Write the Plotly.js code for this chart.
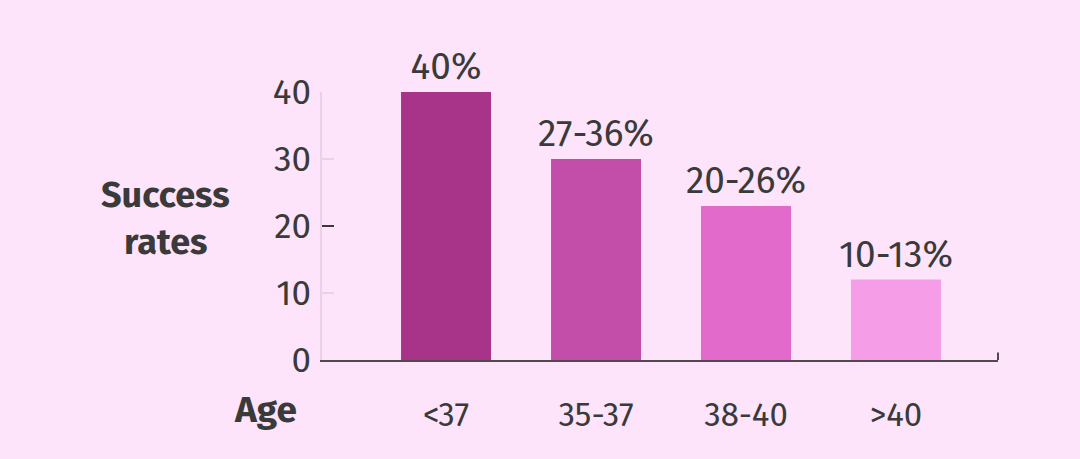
<!DOCTYPE html>
<html><head><meta charset="utf-8">
<script src="https://cdn.plot.ly/plotly-3.0.1.min.js"></script>
<style>html,body{margin:0;padding:0;background:#fde4fa;}</style>
</head><body>
<div id="chart" style="width:1080px;height:459px;"></div>
<script>
const categories = ["<37", "35-37", "38-40", ">40"];
const values = [40, 30, 23, 12];
const barLabels = ["40%", "27-36%", "20-26%", "10-13%"];
const barColors = ["#a73489", "#c24ea9", "#e16acb", "#f59de7"];
const yTicks = [0, 10, 20, 30, 40];

const font = "Fira Sans, Open Sans, Noto Sans, sans-serif";
const trace = {
  type: "bar", x: categories, y: values,
  text: barLabels, textposition: "outside", cliponaxis: false, constraintext: "none",
  textfont: {family: font, size: 37, color: "#3a3a3a"},
  marker: {color: barColors, line: {width: 0}},
  width: 0.6, hoverinfo: "none"
};
const layout = {
  width: 1080, height: 459,
  paper_bgcolor: "#fde4fa", plot_bgcolor: "#fde4fa",
  margin: {l: 322, r: 82, t: 92, b: 99},
  showlegend: false,
  font: {family: font, color: "#3a3a3a"},
  xaxis: {
    range: [-0.827, 3.68], showgrid: false, zeroline: false,
    showline: true, linecolor: "#55474f", linewidth: 2,
    ticks: "", tickfont: {size: 33, color: "#3a3a3a"}, ticklabelstandoff: 24,
    fixedrange: true
  },
  yaxis: {
    range: [0, 40], tickvals: yTicks, showgrid: false, zeroline: false,
    showline: true, linecolor: "#ecd0e6", linewidth: 2,
    ticks: "inside", ticklen: 12, tickwidth: 2, tickcolor: "#ecd0e6",
    tickfont: {size: 35, color: "#3a3a3a"}, ticklabelstandoff: 2,
    fixedrange: true
  },
  yaxis2: {
    range: [0, 40], overlaying: "y", side: "left", anchor: "x",
    tickvals: [20, 40], showticklabels: false, showgrid: false, zeroline: false,
    showline: false, ticks: "inside", ticklen: 12, tickwidth: 2, tickcolor: "#3a3a3a"
  },
  shapes: [{type: "line", xref: "paper", yref: "paper", x0: 1, x1: 1, y0: 0, y1: 0.028,
            line: {color: "#55474f", width: 2}}],
  annotations: [
    {text: "<b>Success</b>", xref: "paper", yref: "paper", x: -0.232, y: 0.616,
     xanchor: "center", yanchor: "middle", showarrow: false, font: {size: 36, color: "#3a3a3a"}},
    {text: "<b>rates</b>", xref: "paper", yref: "paper", x: -0.232, y: 0.44,
     xanchor: "center", yanchor: "middle", showarrow: false, font: {size: 36, color: "#3a3a3a"}},
    {text: "<b>Age</b>", xref: "paper", yref: "paper", x: -0.084, y: -0.185,
     xanchor: "center", yanchor: "middle", showarrow: false, font: {size: 37, color: "#3a3a3a"}}
  ]
};
const trace2 = {type: "scatter", x: [categories[0]], y: [null], yaxis: "y2", hoverinfo: "none", showlegend: false};
Plotly.newPlot("chart", [trace, trace2], layout, {displayModeBar: false, staticPlot: true});
</script>
</body></html>
